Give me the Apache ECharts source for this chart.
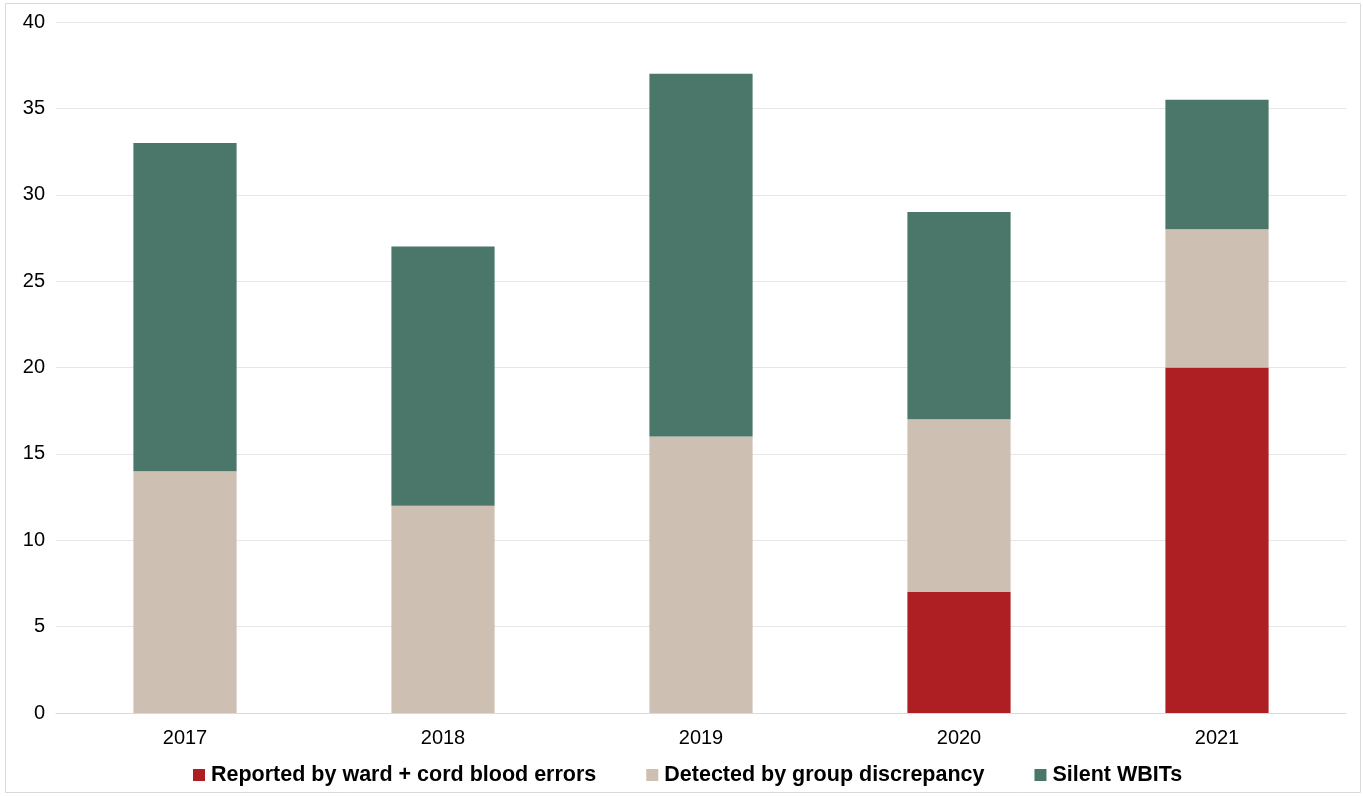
<!DOCTYPE html>
<html>
<head>
<meta charset="utf-8">
<script src="https://cdn.jsdelivr.net/npm/echarts@6/dist/echarts.min.js"></script>
<style>
  html, body { margin: 0; padding: 0; background: #fff; }
  #chart { width: 1363px; height: 796px; }
</style>
</head>
<body>
<div id="chart"></div>
<script>
// Yearly counts by detection route (stacked)
const years = ['2017', '2018', '2019', '2020', '2021'];
const reportedByWard = [0, 0, 0, 7, 20];
const detectedByGroup = [14, 12, 16, 10, 8];
const silentWBITs = [19, 15, 21, 12, 7.5];
const seriesNames = ['Reported by ward + cord blood errors', 'Detected by group discrepancy', 'Silent WBITs'];
const colors = ['#AE1F23', '#CDC0B2', '#4A7769'];

const chart = echarts.init(document.getElementById('chart'));
const fontFamily = 'Liberation Sans, Arial, sans-serif';

function bar(name, data, color) {
  return {
    name: name,
    type: 'bar',
    stack: 'total',
    barWidth: '40%',
    data: data,
    itemStyle: { color: color },
    emphasis: { disabled: true }
  };
}

chart.setOption({
  animation: false,
  color: colors,
  graphic: [{
    type: 'rect',
    shape: { x: 5.5, y: 3.5, width: 1355, height: 789 },
    style: { fill: 'none', stroke: '#d9d9d9', lineWidth: 1 },
    silent: true
  }],
  grid: { left: 56, right: 17, top: 22, bottom: 83, containLabel: false },
  legend: {
    top: 759,
    left: 188,
    itemWidth: 12,
    itemHeight: 12,
    itemGap: 50,
    icon: 'rect',
    textStyle: { fontFamily: fontFamily, fontSize: 21.5, fontWeight: 'bold', color: '#000', padding: [0, 0, 0, 1] },
    data: seriesNames
  },
  xAxis: {
    type: 'category',
    data: years,
    axisLine: { lineStyle: { color: '#d9d9d9' } },
    axisTick: { show: false },
    axisLabel: { fontFamily: fontFamily, fontSize: 20, color: '#000', margin: 15 }
  },
  yAxis: {
    type: 'value',
    min: 0,
    max: 40,
    interval: 5,
    splitLine: { lineStyle: { color: '#e6e6e6' } },
    axisLine: { show: false },
    axisTick: { show: false },
    axisLabel: { fontFamily: fontFamily, fontSize: 20, color: '#000', margin: 11 }
  },
  series: [
    bar(seriesNames[0], reportedByWard, colors[0]),
    bar(seriesNames[1], detectedByGroup, colors[1]),
    bar(seriesNames[2], silentWBITs, colors[2])
  ]
});
</script>
</body>
</html>
